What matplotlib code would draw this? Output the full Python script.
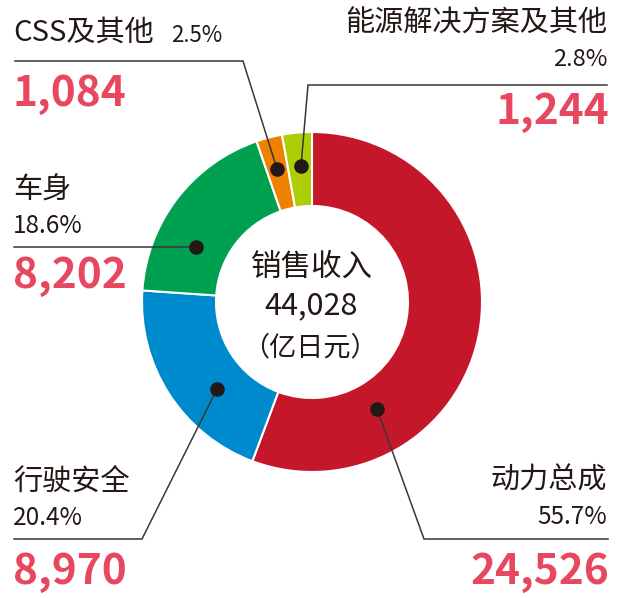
import matplotlib.pyplot as plt

plt.rcParams['font.family'] = ['Noto Sans CJK SC', 'DejaVu Sans']

# data, clockwise from 12 o'clock
segments = ['动力总成', '行驶安全', '车身', 'CSS及其他', '能源解决方案及其他']
sales = [24526, 8970, 8202, 1084, 1244]
shares = ['55.7%', '20.4%', '18.6%', '2.5%', '2.8%']
total = '44,028'
colors = ['#c5172a', '#008ace', '#00a051', '#ee8100', '#adcd05']

txt = '#231815'
red_txt = '#e8485f'
line_c = '#3a3636'

fig = plt.figure(figsize=(6.19, 5.98), dpi=100)
ax = fig.add_axes([0, 0, 1, 1])

# pixel-like coordinates, y downward -> counterclock=True draws clockwise on screen
ax.pie(sales, colors=colors, center=(312, 302), radius=170, startangle=270,
       counterclock=True,
       wedgeprops=dict(width=74, edgecolor='white', linewidth=1.5))
ax.set_xlim(0, 619)
ax.set_ylim(598, 0)
ax.set_aspect('equal')
ax.axis('off')

# centre text
ax.text(312, 267, '销售收入', ha='center', va='center', fontsize=22, color=txt)
ax.text(311, 306, total, ha='center', va='center', fontsize=22, fontweight='medium', color=txt)
ax.text(310, 348, '（亿日元）', ha='center', va='center', fontsize=19.5, color=txt)

# leader lines: (path points), dot is last point
leaders = [
    [(608, 539), (424, 539), (377, 409)],
    [(14, 539), (142, 539), (217, 389)],
    [(14, 247), (196, 247)],
    [(15, 61), (243, 61), (277, 169)],
    [(607, 85), (308, 85), (301, 166)],
]
for pts in leaders:
    xs, ys = zip(*pts)
    ax.plot(xs, ys, color=line_c, lw=1.1, solid_joinstyle='miter')
    ax.plot(xs[-1], ys[-1], 'o', color=txt, markersize=9.5)

num = lambda v: f'{v:,}'
lab_fs, pct_fs, big_fs = 21, 17.5, 30.5

# 动力总成 (right bottom)
ax.text(607, 481, segments[0], ha='right', va='center', fontsize=lab_fs, color=txt)
ax.text(607, 517, shares[0], ha='right', va='center', fontsize=pct_fs, color=txt)
ax.text(609, 572, num(sales[0]), ha='right', va='center', fontsize=big_fs, fontweight='bold', color=red_txt)

# 行驶安全 (left bottom)
ax.text(13, 482, segments[1], ha='left', va='center', fontsize=lab_fs, color=txt)
ax.text(13, 518, shares[1], ha='left', va='center', fontsize=pct_fs, color=txt)
ax.text(13, 572, num(sales[1]), ha='left', va='center', fontsize=big_fs, fontweight='bold', color=red_txt)

# 车身
ax.text(13, 191, segments[2], ha='left', va='center', fontsize=lab_fs, color=txt)
ax.text(13, 226, shares[2], ha='left', va='center', fontsize=pct_fs, color=txt)
ax.text(13, 276, num(sales[2]), ha='left', va='center', fontsize=big_fs, fontweight='bold', color=red_txt)

# CSS及其他
ax.text(13, 33, segments[3], ha='left', va='center', fontsize=lab_fs, color=txt)
ax.text(171, 36, shares[3], ha='left', va='center', fontsize=16, color=txt)
ax.text(13, 94, num(sales[3]), ha='left', va='center', fontsize=big_fs, fontweight='bold', color=red_txt)

# 能源解决方案及其他
ax.text(607, 24, segments[4], ha='right', va='center', fontsize=lab_fs, color=txt)
ax.text(607, 59, shares[4], ha='right', va='center', fontsize=17, color=txt)
ax.text(609, 112, num(sales[4]), ha='right', va='center', fontsize=big_fs, fontweight='bold', color=red_txt)

fig.savefig('out.png', dpi=100)
